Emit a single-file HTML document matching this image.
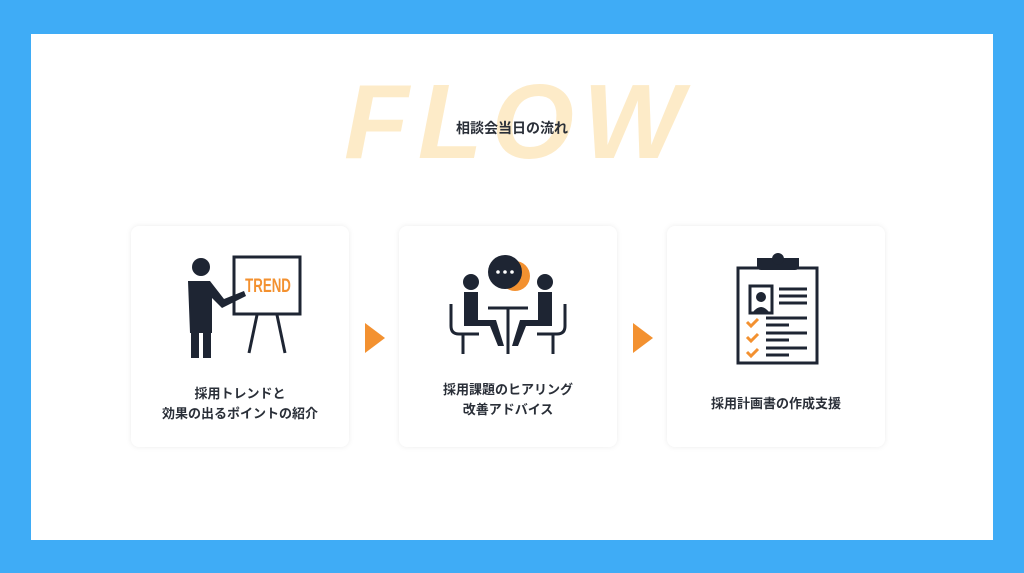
<!DOCTYPE html>
<html><head><meta charset="utf-8"><style>
body{margin:0;width:1024px;height:573px;background:#3facf6;position:relative;overflow:hidden;font-family:"Liberation Sans","Noto Sans CJK JP",sans-serif}
.in{position:absolute;left:31px;top:34px;width:962px;height:506px;background:#fff}
.flow{position:absolute;left:344px;top:62px;font-size:106px;font-weight:bold;font-style:italic;color:#fdebc8;letter-spacing:9px;line-height:120px}
.sub{position:absolute;left:0;width:1024px;top:118px;text-align:center;font-size:14px;font-weight:bold;color:#2a2f38}
.card{position:absolute;top:226px;width:218px;height:221px;background:#fff;border-radius:8px;box-shadow:0 0 6px rgba(0,0,0,.08)}
.t{position:absolute;left:0;width:100%;text-align:center;font-size:13px;font-weight:bold;color:#2a2f38;line-height:20px}
.ar{position:absolute;top:323px;width:0;height:0;border-top:15px solid transparent;border-bottom:15px solid transparent;border-left:20px solid #f39130}
svg{position:absolute}
</style></head><body>
<div class="in"></div>
<div class="flow">FLOW</div>
<div class="sub">相談会当日の流れ</div>

<div class="card" style="left:131px">
<svg width="218" height="221" viewBox="0 0 218 221">
<g fill="#1e2533" stroke="#1e2533">
<circle cx="70" cy="41" r="9" stroke="none"/>
<path d="M57 55 h22 l14 18 l20 -8 l2 5 l-24 12 l-10 -10 v35 h-22 z" stroke="none"/>
<rect x="60" y="95" width="8" height="37" stroke="none"/><rect x="72" y="95" width="8" height="37" stroke="none"/>
<rect x="103" y="31" width="66" height="57" fill="none" stroke-width="3"/>
<line x1="126" y1="89" x2="118" y2="127" stroke-width="3"/><line x1="146" y1="89" x2="154" y2="127" stroke-width="3"/>
</g>
<text x="0" y="0" transform="translate(137 66) scale(0.7 1)" font-size="19" font-weight="bold" fill="#f39130" text-anchor="middle">TREND</text>
</svg>
<div class="t" style="top:158px">採用トレンドと<br>効果の出るポイントの紹介</div>
</div>

<div class="ar" style="left:365px"></div>

<div class="card" style="left:399px">
<svg width="218" height="221" viewBox="0 0 218 221">
<circle cx="116" cy="50" r="15" fill="#f39130"/>
<circle cx="106" cy="46" r="17" fill="#1e2533"/>
<circle cx="99" cy="46" r="1.8" fill="#fff"/><circle cx="106" cy="46" r="1.8" fill="#fff"/><circle cx="113" cy="46" r="1.8" fill="#fff"/>
<g fill="#1e2533" stroke="#1e2533">
<circle cx="72" cy="56" r="8" stroke="none"/><circle cx="146" cy="56" r="8" stroke="none"/>
<path d="M65 66 h14 v28 h18 l8 26 h-6 l-8 -20 h-26 z" stroke="none"/>
<path d="M139 66 h14 v34 h-26 l-8 20 h-6 l8 -26 h18 z" stroke="none"/>
<path d="M52 78 v22 q0 8 8 8 h20" fill="none" stroke-width="3"/>
<path d="M166 78 v22 q0 8 -8 8 h-20" fill="none" stroke-width="3"/>
<line x1="64" y1="108" x2="64" y2="128" stroke-width="3"/><line x1="154" y1="108" x2="154" y2="128" stroke-width="3"/>
<line x1="89" y1="82" x2="129" y2="82" stroke-width="3"/><line x1="109" y1="82" x2="109" y2="128" stroke-width="3"/>
</g>
</svg>
<div class="t" style="top:154px">採用課題のヒアリング<br>改善アドバイス</div>
</div>

<div class="ar" style="left:633px"></div>

<div class="card" style="left:667px">
<svg width="218" height="221" viewBox="0 0 218 221">
<g stroke="#1e2533" fill="none">
<rect x="71" y="42" width="79" height="95" stroke-width="3"/>
<rect x="83" y="60" width="22" height="27" stroke-width="3"/>
</g>
<path d="M90 32 h42 v8 q0 4 -4 4 h-34 q-4 0 -4 -4 z" fill="#1e2533"/>
<circle cx="111" cy="33" r="6" fill="#1e2533"/>
<circle cx="94" cy="71" r="5" fill="#1e2533"/>
<path d="M86 86 q8 -10 16 0 z" fill="#1e2533"/>
<g stroke="#1e2533" stroke-width="3">
<line x1="112" y1="63" x2="140" y2="63"/><line x1="112" y1="70" x2="140" y2="70"/><line x1="112" y1="77" x2="140" y2="77"/>
<line x1="99" y1="92" x2="140" y2="92"/><line x1="99" y1="99" x2="122" y2="99"/>
<line x1="99" y1="107" x2="140" y2="107"/><line x1="99" y1="114" x2="122" y2="114"/>
<line x1="99" y1="122" x2="140" y2="122"/><line x1="99" y1="129" x2="122" y2="129"/>
</g>
<g stroke="#f39130" stroke-width="3" fill="none">
<path d="M80 96 l4 4 l7 -7"/><path d="M80 111 l4 4 l7 -7"/><path d="M80 126 l4 4 l7 -7"/>
</g>
</svg>
<div class="t" style="top:168px">採用計画書の作成支援</div>
</div>
</body></html>
